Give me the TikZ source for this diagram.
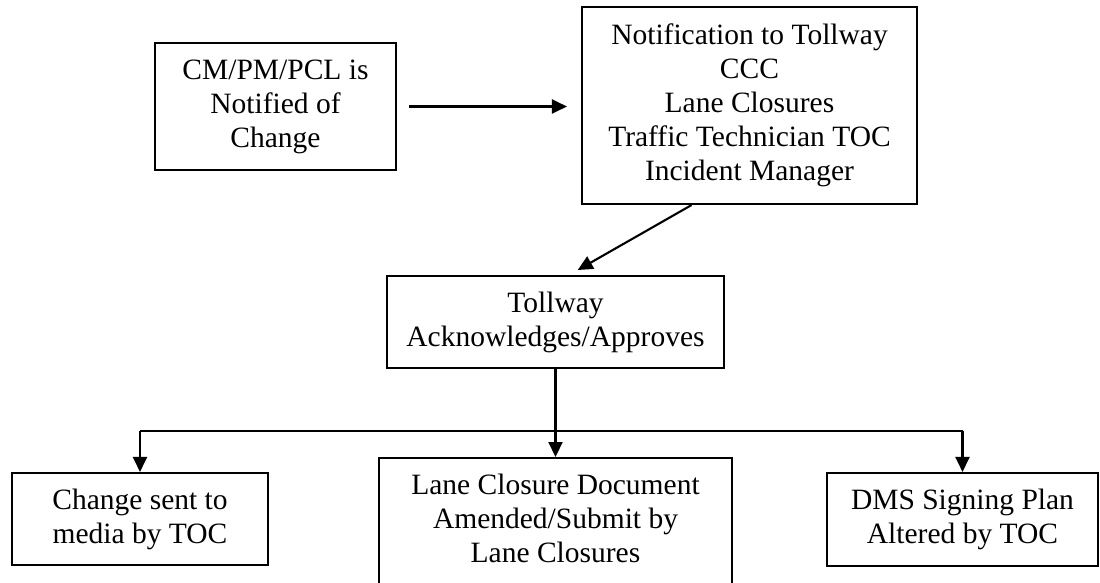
\documentclass[tikz,border=0pt]{standalone}
\usepackage{fontspec}
\setmainfont{Liberation Serif}
\usetikzlibrary{arrows.meta,calc}
\begin{document}
\begin{tikzpicture}[x=1pt,y=-1pt,
  box/.style={draw, rectangle, line width=2.1pt, inner sep=0pt, align=center,
    font=\fontsize{29.5}{34}\selectfont},
  conn/.style={line width=2.1pt},
  arr/.style={conn, -{Triangle[length=15pt,width=14pt]}}]
\fill[white] (0,0) rectangle (1100,582);
\useasboundingbox (0,0) rectangle (1100,582);
\clip (0,0) rectangle (1100,582);
\node[box, minimum width=241pt, minimum height=127pt] (A) at (275.5,106.5)
  {CM/PM/PCL is\\Notified of\\Change};
\node[box, minimum width=335pt, minimum height=197pt] (B) at (749.5,105.5)
  {Notification to Tollway\\CCC\\Lane Closures\\Traffic Technician TOC\\Incident Manager};
\node[box, minimum width=337pt, minimum height=92pt] (C) at (555.5,322)
  {Tollway\\Acknowledges/Approves};
\node[box, minimum width=256pt, minimum height=92pt] (D) at (140,519)
  {Change sent to\\media by TOC};
\node[box, anchor=north, minimum width=353pt, minimum height=130pt] (E) at (555.5,457)
  {Lane Closure Document\\Amended/Submit by\\Lane Closures\rule[-10pt]{0pt}{10pt}};
\node[box, minimum width=271pt, minimum height=93pt] (F) at (962.5,519.5)
  {DMS Signing Plan\\Altered by TOC};
% A -> B
\draw[arr, shorten <=12pt, shorten >=14pt] (A.east) -- (A.east -| B.west);
% B -> C
\coordinate (bs) at ($(B.south west)!0.328!(B.south east)$);
\coordinate (cn) at ($(C.north west)!0.54!(C.north east)$);
\draw[arr, shorten >=10pt] (bs) -- (cn);
% C -> E and branches
\coordinate (j) at ($(C.south)!0.7!(E.north)$);
\draw[arr] (C.south) -- (E.north);
\draw[conn] (j -| D.north) -- (j -| F.north);
\draw[arr] (j -| D.north) -- (D.north);
\draw[arr] (j -| F.north) -- (F.north);
\end{tikzpicture}
\end{document}
